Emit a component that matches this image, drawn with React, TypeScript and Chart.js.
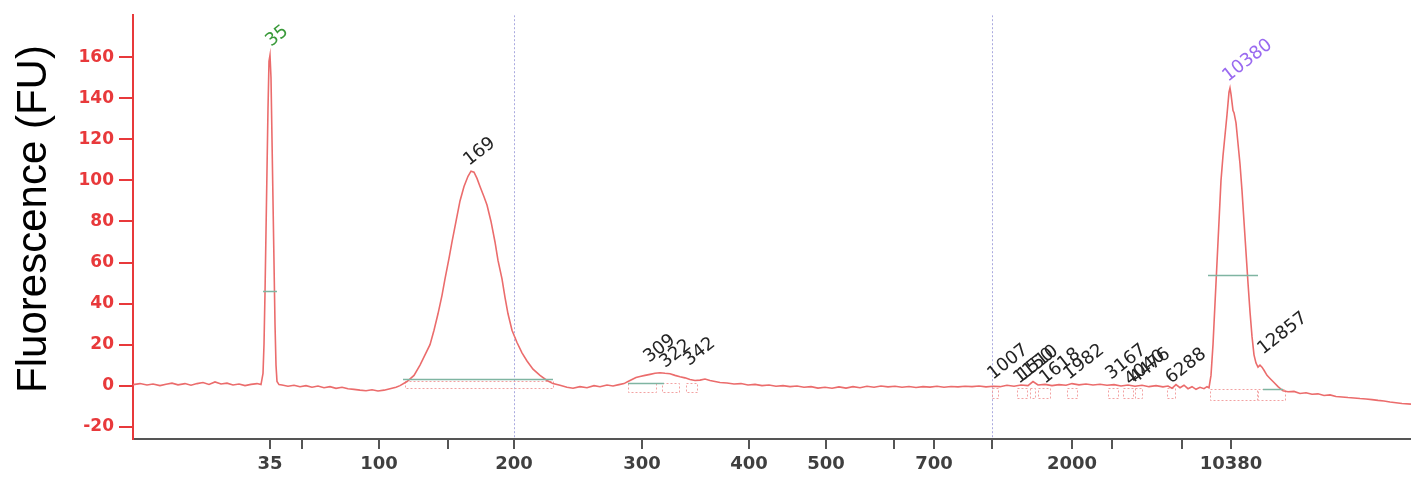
import React, { useEffect, useRef } from 'react';
import { Chart, registerables } from 'chart.js';

Chart.register(...registerables);

// ---------- data (x = migration position units, y = fluorescence FU) ----------
const X_MIN = 0;
const X_MAX = 1278;
const Y_MIN = -26;
const Y_MAX = 180.5;

const yTicks = [-20, 0, 20, 40, 60, 80, 100, 120, 140, 160];

const xTickPos = [137, 169, 246, 315, 381, 509, 616, 693, 761, 801, 859, 939, 979, 1049, 1098];
const xTickLabels = ['35', '', '100', '', '200', '300', '400', '500', '', '700', '', '2000', '', '', '10380'];

// ladder reference lines (dotted vertical)
const ladderLines = [381, 859];

const traceTime = [
  0, 7, 14, 20, 27, 33, 39, 45, 52, 58, 64, 70, 76, 82, 88, 94, 100, 106, 112, 118, 124, 128,
  130, 131, 132, 133, 134, 135, 136, 137, 138, 139, 140, 141, 142, 143, 144, 146,
  149, 155, 161, 167, 173, 179, 185, 191, 197, 203, 209, 215, 221, 227, 233, 239, 245, 251, 257, 263,
  267, 274, 281, 287, 292, 297, 301, 305, 309, 312, 316, 319, 323, 327, 331, 335, 338, 341, 344, 347,
  351, 354, 358, 362, 365, 369, 372, 375, 379, 384, 389, 394, 400, 407, 414, 420, 427, 434, 440, 447,
  454, 461, 467, 474, 480, 486, 491, 495, 499, 503, 507, 512, 517, 522, 527, 532, 537, 542, 547, 552,
  557, 562, 567, 572, 577, 582, 587, 594, 601, 608, 615, 622, 629, 636, 643, 650, 657, 664, 671, 678,
  685, 692, 699, 706, 713, 720, 727, 734, 741, 748, 755, 762, 769, 776, 783, 790, 797, 804, 811, 818,
  825, 832, 839, 846, 853, 860, 867, 874, 881, 888, 895, 900, 905, 912, 919, 926, 933, 939, 946, 953,
  960, 967, 974, 981, 988, 995, 1002, 1009, 1016, 1023, 1030, 1035, 1039, 1043, 1047, 1051, 1055, 1059,
  1063, 1067, 1071, 1074, 1076, 1078, 1080, 1082, 1084, 1086, 1088, 1090, 1092, 1094, 1096, 1097, 1098,
  1099, 1100, 1101, 1103, 1105, 1107, 1109, 1111, 1113, 1115, 1117, 1119, 1121, 1123, 1125, 1127, 1129,
  1131, 1134, 1137, 1141, 1145, 1150, 1155, 1161, 1167, 1173, 1179, 1185, 1191, 1197, 1203, 1209, 1215,
  1221, 1227, 1233, 1239, 1245, 1251, 1257, 1263, 1269, 1278,
];

const traceFU = [
  0.5, 1, 0.3, 0.8, 0, 0.7, 1.2, 0.4, 1, 0.2, 1, 1.5, 0.6, 1.8, 0.8, 1.2, 0.3, 0.8, 0, 0.6, 1, 0.5,
  6, 20, 45, 75, 105, 135, 158, 161, 150, 120, 90, 60, 30, 10, 2, 0.5,
  0.3, -0.3, 0.2, -0.5, 0, -0.8, -0.2, -1, -0.5, -1.3, -0.8, -1.5, -1.8, -2.2, -2.5, -2, -2.6, -2.2, -1.5, -0.8,
  0, 2, 5, 10, 15, 20, 27, 35, 44, 52, 62, 70, 80, 90, 97, 102, 104.5, 104, 101, 97,
  92, 88, 80, 70, 61, 52, 43, 35, 27, 21, 16, 12, 8, 5, 2.5, 1, 0.2, -0.8, -1.3, -0.5,
  -1, 0, -0.5, 0.3, -0.2, 0.5, 1, 2, 3, 4, 4.5, 5, 5.5, 6, 6.3, 6, 5.8, 5, 4.3, 3.8,
  3, 2.5, 2.7, 3.2, 2.5, 2, 1.5, 1.3, 0.8, 1, 0.3, 0.6, 0, 0.3, -0.3, 0, -0.5, -0.2, -0.8, -0.5,
  -1.2, -0.8, -1.3, -0.6, -1.2, -0.5, -1, -0.3, -0.8, -0.2, -0.6, -0.3, -0.8, -0.4, -0.9, -0.5, -0.7, -0.3, -0.8, -0.4,
  -0.6, -0.3, -0.5, -0.2, -0.6, -0.3, -0.5, 0.2, -0.3, 0.3, 0, 2, 0.3, 0.6, 0, 0.5, 0.2, 1, 0.4, 0.8,
  0.3, 0.7, 0.2, 0.5, -0.2, 0.3, -0.3, 0.2, -0.5, 0, -0.6, -0.2, -1.3, 0.5, -1, 0.2, -1.5, -0.5,
  -1.8, -0.8, -1.5, -0.5, -1, 5, 20, 40, 60, 80, 100, 112, 122, 132, 143, 145, 142,
  138, 134, 133, 128, 118, 108, 95, 80, 65, 50, 36, 24, 15, 11, 9, 10, 9,
  7.5, 5, 3.5, 1.5, -0.5, -2.5, -3, -2.8, -3.8, -3.5, -4.2, -4, -4.8, -4.5, -5.3, -5.5, -5.8,
  -6, -6.3, -6.5, -6.8, -7.2, -7.5, -8, -8.3, -8.7, -9,
];

// peak call labels: text, x, y (baseline start), colour kind
const peakLabels = ['35', '169', '309', '322', '342', '1007', '1150', '1510', '1618', '1982', '3167', '4040', '4476', '6288', '10380', '12857'];
const peakLabelX = [138, 336, 516, 532, 556, 860, 886, 890, 912, 936, 978, 997, 1002, 1038, 1095, 1130];
const peakLabelY = [165, 107, 11, 8.5, 9.5, 2.8, 0.8, 2.3, 0.8, 2.8, 2.8, 0, 0.8, 0.8, 148, 15];
const peakLabelKind = ['marker', 'peak', 'peak', 'peak', 'peak', 'peak', 'peak', 'peak', 'peak', 'peak', 'peak', 'peak', 'peak', 'peak', 'marker2', 'peak'];

// integration boxes: [start, end, top FU, bottom FU]
const boxStart = [272, 495, 529, 553, 859, 884, 897, 905, 934, 975, 990, 1002, 1034, 1077, 1125];
const boxEnd = [420, 523, 546, 564, 865, 894, 902, 917, 944, 985, 1000, 1009, 1042, 1124, 1152];
const boxTop = [2.5, 1.3, 1.3, 1.3, -1, -1, -1, -1, -1, -1, -1, -1, -1, -1.5, -1.5];
const boxBottom = [-1.2, -3, -3, -3, -6, -6, -6, -6, -6, -6, -6, -6, -6, -7, -7];

// peak width / baseline markers: [start, end, FU]
const markStart = [130, 270, 495, 1075, 1130];
const markEnd = [144, 420, 531, 1125, 1150];
const markLevel = [46, 3.2, 1.3, 54, -1.6];

const Y_TITLE = 'Fluorescence (FU)';

const RED = '#e8393b';
const GREY = '#3f3f3f';

export default function App() {
  const ref = useRef<HTMLCanvasElement>(null);

  useEffect(() => {
    const canvas = ref.current;
    if (!canvas) return;

    const annot = {
      id: 'annot',
      beforeDatasetsDraw(chart: any) {
        const { ctx, chartArea: a, scales } = chart;
        const x = scales.x, y = scales.y;
        ctx.save();
        ctx.beginPath();
        ctx.rect(a.left, a.top, a.right - a.left, a.bottom - a.top);
        ctx.clip();
        ctx.strokeStyle = '#aaaadf';
        ctx.lineWidth = 1;
        ctx.setLineDash([2, 2]);
        for (const t of ladderLines) {
          const px = Math.round(x.getPixelForValue(t)) + 0.5;
          ctx.beginPath();
          ctx.moveTo(px, a.top);
          ctx.lineTo(px, a.bottom);
          ctx.stroke();
        }
        ctx.strokeStyle = '#f2a2a2';
        ctx.setLineDash([2, 2]);
        for (let i = 0; i < boxStart.length; i++) {
          const x0 = Math.round(x.getPixelForValue(boxStart[i])) + 0.5;
          const x1 = Math.round(x.getPixelForValue(boxEnd[i])) + 0.5;
          const y0 = Math.round(y.getPixelForValue(boxTop[i])) + 0.5;
          const y1 = Math.round(y.getPixelForValue(boxBottom[i])) + 0.5;
          ctx.strokeRect(x0, y0, x1 - x0, y1 - y0);
        }
        ctx.restore();
      },
      afterDatasetsDraw(chart: any) {
        const { ctx, scales } = chart;
        const x = scales.x, y = scales.y;
        ctx.save();
        ctx.strokeStyle = '#7fb5a2';
        ctx.lineWidth = 1.5;
        for (let i = 0; i < markStart.length; i++) {
          const py = Math.round(y.getPixelForValue(markLevel[i])) + 0.5;
          ctx.beginPath();
          ctx.moveTo(x.getPixelForValue(markStart[i]), py);
          ctx.lineTo(x.getPixelForValue(markEnd[i]), py);
          ctx.stroke();
        }
        ctx.font = '18px "DejaVu Sans"';
        ctx.textAlign = 'left';
        ctx.textBaseline = 'alphabetic';
        for (let i = 0; i < peakLabels.length; i++) {
          const px = x.getPixelForValue(peakLabelX[i]);
          const py = y.getPixelForValue(peakLabelY[i]);
          const kind = peakLabelKind[i];
          ctx.fillStyle = kind === 'marker' ? '#3a9a3a' : kind === 'marker2' ? '#9a6af0' : '#242424';
          ctx.save();
          ctx.translate(px, py);
          ctx.rotate(-38 * Math.PI / 180);
          ctx.fillText(peakLabels[i], 0, 0);
          ctx.restore();
        }
        ctx.restore();
      },
      afterDraw(chart: any) {
        const { ctx } = chart;
        ctx.save();
        ctx.fillStyle = '#000';
        ctx.font = '42px "Liberation Sans"';
        ctx.textAlign = 'center';
        ctx.textBaseline = 'alphabetic';
        ctx.translate(46, 219);
        ctx.rotate(-Math.PI / 2);
        ctx.fillText(Y_TITLE, 0, 0);
        ctx.restore();
      },
    };

    const chart = new Chart(canvas, {
      type: 'line',
      data: {
        datasets: [
          {
            data: traceTime.map((t, i) => ({ x: t, y: traceFU[i] })),
            borderColor: '#eb6c6c',
            borderWidth: 1.6,
            pointRadius: 0,
            tension: 0,
            fill: false,
          },
        ],
      },
      options: {
        responsive: false,
        animation: false,
        devicePixelRatio: 1,
        layout: { padding: { top: 14, right: 0, left: 0, bottom: 0 } },
        plugins: { legend: { display: false }, tooltip: { enabled: false }, title: { display: false } },
        scales: {
          x: {
            type: 'linear',
            min: X_MIN,
            max: X_MAX,
            afterBuildTicks: (scale: any) => {
              scale.ticks = xTickPos.map((v) => ({ value: v }));
            },
            afterFit: (scale: any) => {
              scale.height = 41;
            },
            ticks: {
              autoSkip: false,
              maxRotation: 0,
              minRotation: 0,
              padding: 5,
              color: GREY,
              font: { family: 'DejaVu Sans', size: 18, weight: 'bold' },
              callback: (_v: any, idx: number) => xTickLabels[idx],
            },
            grid: { display: true, drawOnChartArea: false, drawTicks: true, tickLength: 10, color: '#555', lineWidth: 2 },
            border: { display: true, color: '#555', width: 2 },
          },
          y: {
            type: 'linear',
            min: Y_MIN,
            max: Y_MAX,
            afterBuildTicks: (scale: any) => {
              scale.ticks = yTicks.map((v) => ({ value: v }));
            },
            afterFit: (scale: any) => {
              scale.width = 133;
            },
            ticks: {
              padding: 5,
              color: RED,
              font: { family: 'DejaVu Sans', size: 17, weight: 'bold' },
            },
            grid: { display: true, drawOnChartArea: false, drawTicks: true, tickLength: 14, color: RED, lineWidth: 2 },
            border: { display: true, color: RED, width: 2 },
          },
        },
      },
      plugins: [annot],
    } as any);

    return () => chart.destroy();
  }, []);

  return (
    <div style={{ position: 'fixed', left: 0, top: 0, width: 1411, height: 480, background: '#fff' }}>
      <canvas ref={ref} width={1411} height={480} style={{ display: 'block', width: 1411, height: 480 }} />
    </div>
  );
}
